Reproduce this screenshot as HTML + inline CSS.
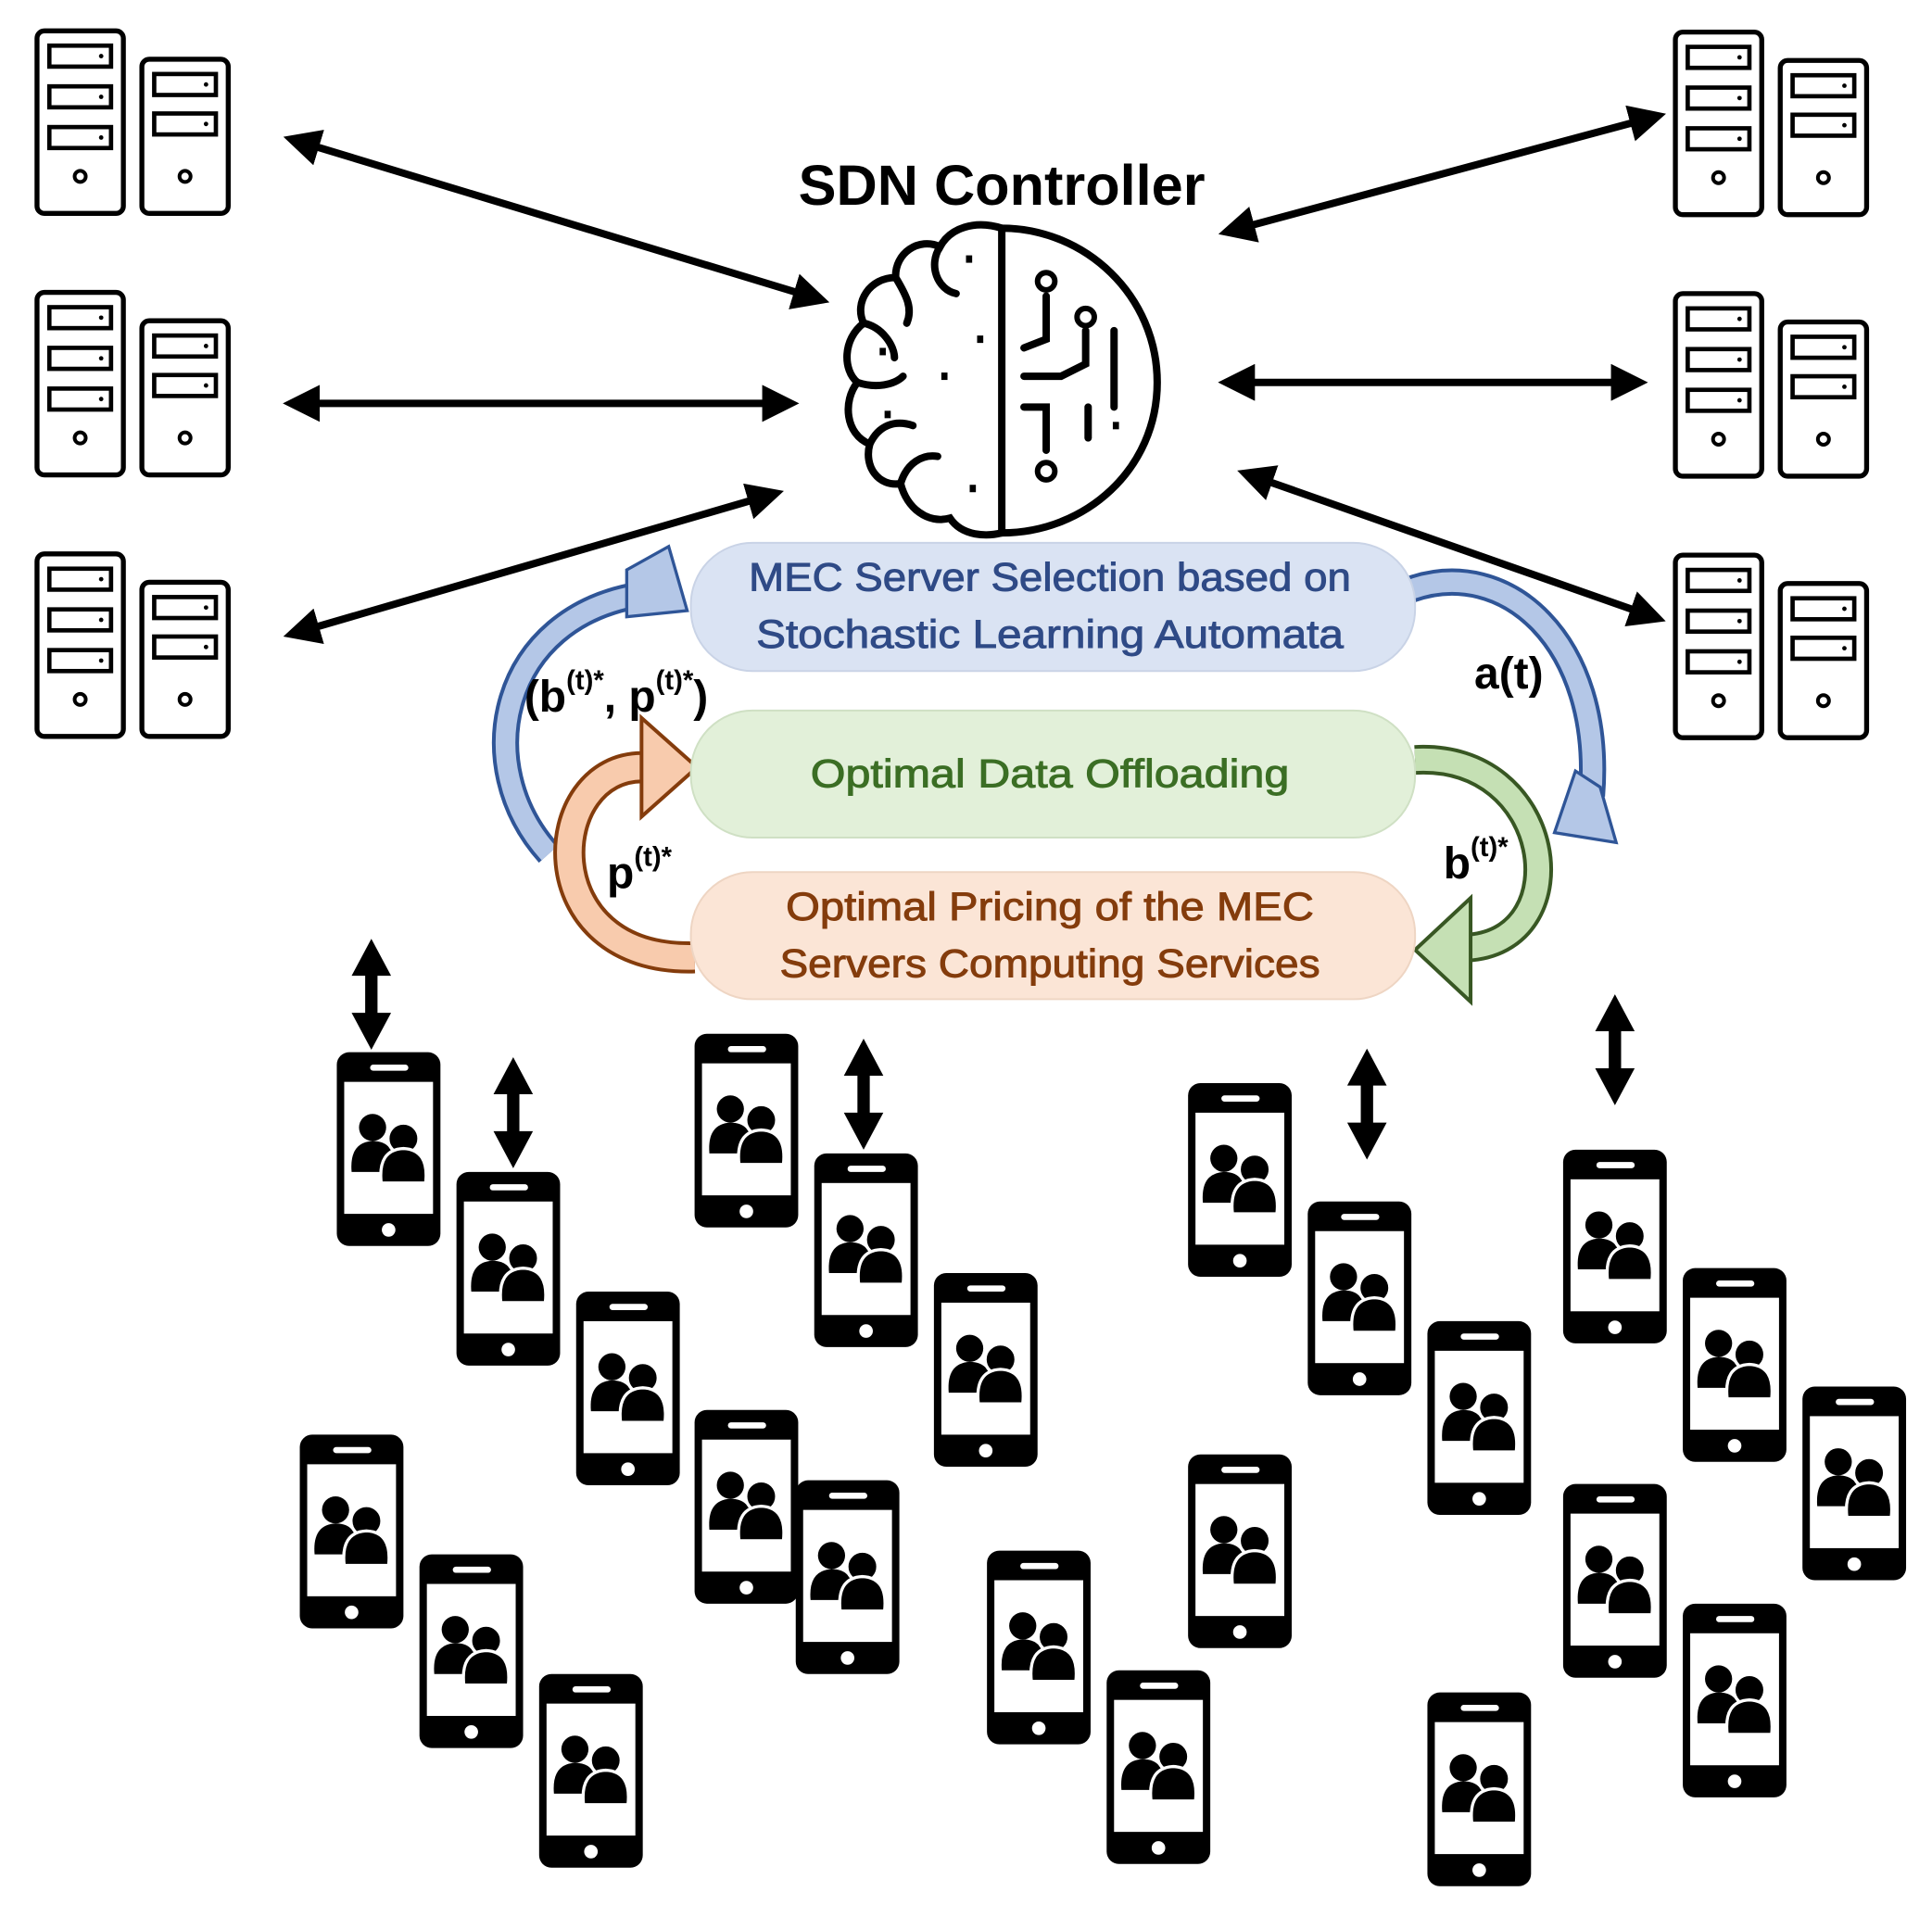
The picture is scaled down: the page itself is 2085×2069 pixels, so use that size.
<!DOCTYPE html>
<html><head><meta charset="utf-8"><style>
html,body{margin:0;padding:0;background:#fff;}
svg{display:block;}
text{font-family:"Liberation Sans",sans-serif;}
</style></head><body>
<svg width="2085" height="2069" viewBox="0 0 1566 1554" preserveAspectRatio="none" xmlns="http://www.w3.org/2000/svg">
<defs>
<marker id="ah" markerWidth="5" markerHeight="5" refX="3.2" refY="2.5" orient="auto-start-reverse" markerUnits="strokeWidth"><path d="M0,0 L5,2.5 L0,5 z" fill="#000"/></marker>
<g id="srvT"><rect x="0" y="0" width="70" height="148" rx="6" fill="#fff" stroke="#000" stroke-width="4"/>
<rect x="10" y="12" width="50" height="17" fill="none" stroke="#000" stroke-width="3.5"/><circle cx="52" cy="20.5" r="1.8"/>
<rect x="10" y="45" width="50" height="17" fill="none" stroke="#000" stroke-width="3.5"/><circle cx="52" cy="53.5" r="1.8"/>
<rect x="10" y="78" width="50" height="17" fill="none" stroke="#000" stroke-width="3.5"/><circle cx="52" cy="86.5" r="1.8"/>
<circle cx="35" cy="118" r="4.5" fill="none" stroke="#000" stroke-width="3"/></g>
<g id="srvS"><rect x="0" y="0" width="70" height="125" rx="6" fill="#fff" stroke="#000" stroke-width="4"/>
<rect x="10" y="12" width="50" height="17" fill="none" stroke="#000" stroke-width="3.5"/><circle cx="52" cy="20.5" r="1.8"/>
<rect x="10" y="44" width="50" height="17" fill="none" stroke="#000" stroke-width="3.5"/><circle cx="52" cy="52.5" r="1.8"/>
<circle cx="35" cy="95" r="4.5" fill="none" stroke="#000" stroke-width="3"/></g>
<g id="srv"><use href="#srvT"/><use href="#srvS" x="85" y="23"/></g>
<g id="ph"><rect x="0" y="0" width="84" height="157" rx="10" fill="#000"/>
<rect x="6" y="24" width="72" height="107" fill="#fff"/>
<rect x="27" y="10" width="31" height="5" rx="2.5" fill="#fff"/>
<circle cx="42" cy="144" r="5.5" fill="#fff"/>
<circle cx="29" cy="61" r="11"/>
<path d="M12,97 Q10,73 29,72 Q46,72 46,90 L46,97 z"/>
<circle cx="54" cy="70" r="12.5" fill="#000" stroke="#fff" stroke-width="2.5"/>
<path d="M36,106 Q33,79 54,78 Q75,79 72,106 z" fill="#000" stroke="#fff" stroke-width="2.5"/></g>
<g id="va"><path d="M0,0 L-16,30 L-5,30 L-5,60 L-16,60 L0,90 L16,60 L5,60 L5,30 L16,30 z" fill="#000"/></g>
</defs>

<!-- servers -->
<use href="#srv" x="30" y="25"/>
<use href="#srv" x="30" y="237"/>
<use href="#srv" x="30" y="449"/>
<use href="#srv" x="1358" y="26"/>
<use href="#srv" x="1358" y="238"/>
<use href="#srv" x="1358" y="450"/>

<!-- arrows -->
<g stroke="#000" stroke-width="6" fill="none" marker-start="url(#ah)" marker-end="url(#ah)">
<line x1="240" y1="114" x2="662" y2="242"/>
<line x1="240" y1="327" x2="637" y2="327"/>
<line x1="240" y1="513" x2="625" y2="401"/>
<line x1="998" y1="187" x2="1340" y2="95"/>
<line x1="998" y1="310" x2="1325" y2="310"/>
<line x1="1013" y1="385" x2="1340" y2="500"/>
</g>

<text x="812" y="166" font-size="46" font-weight="bold" text-anchor="middle">SDN Controller</text>

<!-- brain -->
<g fill="none" stroke="#000" stroke-width="6" stroke-linecap="round">
<path d="M812,185 C880,185 938,240 938,310 C938,380 880,432 812,432 Z"/>
<path d="M812,185 C790,178 770,185 762,200 C745,192 725,205 726,225 C705,225 692,245 700,262 C683,275 683,300 695,310 C683,325 685,352 705,360 C700,378 712,395 730,392 C735,412 752,425 770,420 C780,435 800,435 812,432"/>
<path d="M762,200 C752,215 760,235 775,238"/>
<path d="M726,225 C735,240 740,250 735,262"/>
<path d="M700,262 C715,265 725,280 725,290"/>
<path d="M695,310 C710,315 725,312 732,305"/>
<path d="M705,360 C712,345 725,340 740,345"/>
<path d="M730,392 C735,375 748,368 760,370"/>
<path d="M848,240 L848,275 L830,282"/>
<path d="M880,268 L880,295 L860,305 L830,305"/>
<path d="M903,268 L903,330"/>
<path d="M830,330 L848,330 L848,365"/>
<path d="M882,330 L882,355"/>
</g>
<g fill="#fff" stroke="#000" stroke-width="4.5"><circle cx="848" cy="228" r="7"/><circle cx="880" cy="257" r="7"/><circle cx="848" cy="382" r="7"/></g>
<g fill="#000"><rect x="783" y="207" width="5" height="6"/><rect x="792" y="272" width="5" height="6"/><rect x="763" y="302" width="5" height="6"/><rect x="713" y="282" width="5" height="6"/><rect x="717" y="333" width="5" height="6"/><rect x="786" y="393" width="5" height="6"/><rect x="902" y="342" width="5" height="6"/></g>

<!-- curved arrows -->
<g fill="none" stroke-linecap="butt">
<path d="M445,692 C380,620 405,500 520,482" stroke="#2f5597" stroke-width="22"/>
<path d="M445,692 C380,620 405,500 520,482" stroke="#b4c7e7" stroke-width="16"/>
<path d="M1143,478 C1220,450 1300,520 1290,645" stroke="#2f5597" stroke-width="22"/>
<path d="M1143,478 C1220,450 1300,520 1290,645" stroke="#b4c7e7" stroke-width="16"/>
<path d="M1147,616 C1260,610 1280,760 1192,768" stroke="#385723" stroke-width="24"/>
<path d="M1147,616 C1260,610 1280,760 1192,768" stroke="#c5e0b4" stroke-width="18"/>
<path d="M563,776 C430,780 440,620 522,622" stroke="#843c0c" stroke-width="26"/>
<path d="M563,776 C430,780 440,620 522,622" stroke="#f8cbad" stroke-width="20"/>
</g>
<path d="M508,462 L542,443 L557,495 L508,500 z" fill="#b4c7e7" stroke="#2f5597" stroke-width="2.5"/>
<path d="M1260,675 L1277,625 L1297,638 L1310,683 z" fill="#b4c7e7" stroke="#2f5597" stroke-width="2.5"/>
<path d="M1192,728 L1147,770 L1192,812 z" fill="#c5e0b4" stroke="#385723" stroke-width="3"/>
<path d="M520,582 L565,622 L520,662 z" fill="#f8cbad" stroke="#843c0c" stroke-width="3"/>

<!-- boxes -->
<rect x="560" y="440" width="587" height="104" rx="50" fill="#dae3f3" stroke="#c9d3e6" stroke-width="1.5"/>
<rect x="560" y="576" width="587" height="103" rx="50" fill="#e2f0d9" stroke="#cfe0c4" stroke-width="1.5"/>
<rect x="560" y="707" width="587" height="103" rx="50" fill="#fbe5d6" stroke="#eed5c3" stroke-width="1.5"/>
<g font-size="32" text-anchor="middle" stroke-width="0.7">
<text x="851" y="479" fill="#2f4a86" stroke="#2f4a86" textLength="488" lengthAdjust="spacingAndGlyphs">MEC Server Selection based on</text>
<text x="851" y="525" fill="#2f4a86" stroke="#2f4a86" textLength="476" lengthAdjust="spacingAndGlyphs">Stochastic Learning Automata</text>
<text x="851" y="638" fill="#3b6e24" stroke="#3b6e24" textLength="388" lengthAdjust="spacingAndGlyphs">Optimal Data Offloading</text>
<text x="851" y="746" fill="#843c0c" stroke="#843c0c" textLength="428" lengthAdjust="spacingAndGlyphs">Optimal Pricing of the MEC</text>
<text x="851" y="792" fill="#843c0c" stroke="#843c0c" textLength="438" lengthAdjust="spacingAndGlyphs">Servers Computing Services</text>
</g>

<g font-weight="bold" fill="#000">
<text x="425" y="577" font-size="36">(b<tspan font-size="22" dy="-18">(t)*</tspan><tspan dy="18">, p</tspan><tspan font-size="22" dy="-18">(t)*</tspan><tspan dy="18">)</tspan></text>
<text x="1195" y="558" font-size="36">a(t)</text>
<text x="492" y="720" font-size="36">p<tspan font-size="22" dy="-18">(t)*</tspan></text>
<text x="1170" y="712" font-size="36">b<tspan font-size="22" dy="-18">(t)*</tspan></text>
</g>

<!-- vertical arrows -->
<use href="#va" x="301" y="761"/>
<use href="#va" x="416" y="857"/>
<use href="#va" x="700" y="842"/>
<use href="#va" x="1108" y="850"/>
<use href="#va" x="1309" y="806"/>

<!-- phones -->
<use href="#ph" x="273" y="853"/>
<use href="#ph" x="370" y="950"/>
<use href="#ph" x="467" y="1047"/>
<use href="#ph" x="563" y="838"/>
<use href="#ph" x="660" y="935"/>
<use href="#ph" x="757" y="1032"/>
<use href="#ph" x="563" y="1143"/>
<use href="#ph" x="645" y="1200"/>
<use href="#ph" x="243" y="1163"/>
<use href="#ph" x="340" y="1260"/>
<use href="#ph" x="437" y="1357"/>
<use href="#ph" x="800" y="1257"/>
<use href="#ph" x="897" y="1354"/>
<use href="#ph" x="963" y="878"/>
<use href="#ph" x="1060" y="974"/>
<use href="#ph" x="1157" y="1071"/>
<use href="#ph" x="963" y="1179"/>
<use href="#ph" x="1157" y="1372"/>
<use href="#ph" x="1267" y="932"/>
<use href="#ph" x="1364" y="1028"/>
<use href="#ph" x="1461" y="1124"/>
<use href="#ph" x="1267" y="1203"/>
<use href="#ph" x="1364" y="1300"/>
</svg>
</body></html>
